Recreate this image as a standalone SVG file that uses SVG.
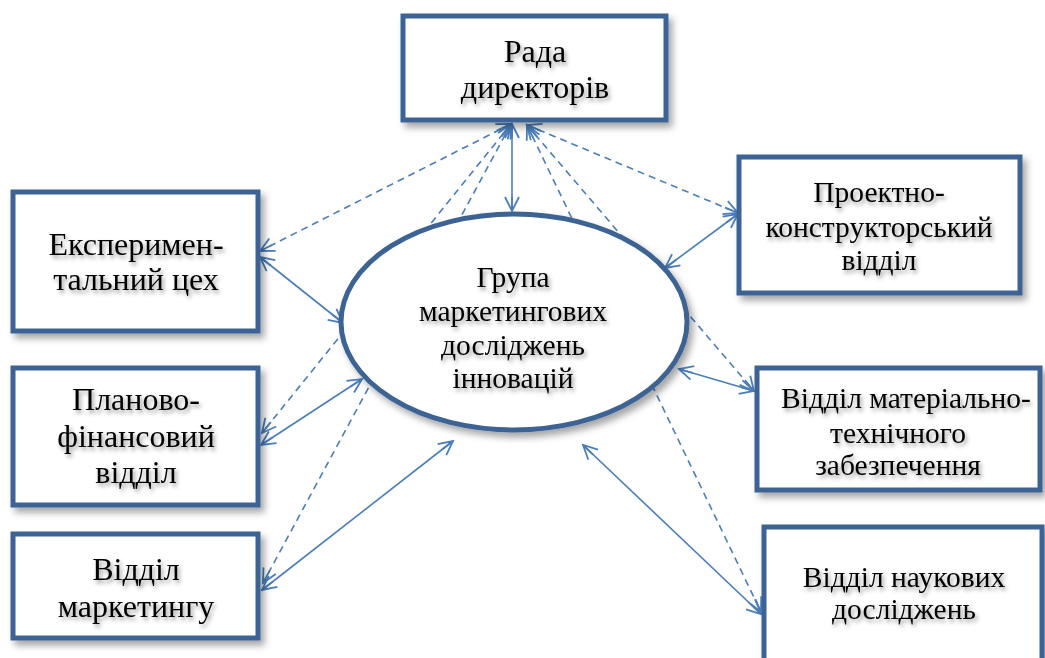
<svg xmlns="http://www.w3.org/2000/svg" width="1045" height="658" viewBox="0 0 1045 658">
  <style>
    .box { fill: #ffffff; stroke: #3d6394; stroke-width: 5; filter: url(#boxShadow); }
    .oval { fill: #ffffff; stroke: #3d6394; stroke-width: 5; filter: url(#boxShadow); }
    .lbl { font-family: 'Liberation Serif', 'Times New Roman', serif; font-size: 29.5px; fill: #000000; text-anchor: middle; filter: url(#textShadow); }
    .big { font-size: 32px; }
    .solid { stroke: #4a7ebb; stroke-width: 1.6; fill: none; marker-start: url(#arrow); marker-end: url(#arrow); }
    .dash { stroke: #4a7ebb; stroke-width: 1.6; fill: none; stroke-dasharray: 7 5; marker-start: url(#arrow); marker-end: url(#arrow); }
  </style>
  <defs>
    <filter id="boxShadow" x="-10%" y="-10%" width="125%" height="130%">
      <feDropShadow dx="4" dy="5" stdDeviation="3.5" flood-color="#000000" flood-opacity="0.35"/>
    </filter>
    <filter id="textShadow" x="-10%" y="-30%" width="125%" height="170%">
      <feDropShadow dx="2" dy="3" stdDeviation="2.2" flood-color="#000000" flood-opacity="0.4"/>
    </filter>
    <marker id="arrow" viewBox="-15 -9 17 18" refX="0" refY="0" markerWidth="17" markerHeight="18" markerUnits="userSpaceOnUse" orient="auto-start-reverse">
      <path d="M-14,-7 L0,0 L-14,7 M-14,0 L0,0" fill="none" stroke="#4a7ebb" stroke-width="1.8"/>
    </marker>
  </defs>

  <rect width="1045" height="658" fill="#ffffff"/>

  <!-- connectors -->
  <g id="connectors">
    <!-- solid two-way links -->
    <line class="solid" x1="512" y1="124" x2="512" y2="211"/>
    <line class="solid" x1="260" y1="257" x2="343" y2="323"/>
    <line class="solid" x1="261" y1="445" x2="362" y2="379"/>
    <line class="solid" x1="262" y1="590" x2="453" y2="441"/>
    <line class="solid" x1="738" y1="214" x2="665" y2="268"/>
    <line class="solid" x1="679" y1="369" x2="754" y2="391"/>
    <line class="solid" x1="583" y1="445" x2="761" y2="614"/>
    <!-- dashed links from the board -->
    <line class="dash" x1="511" y1="124" x2="260" y2="251"/>
    <line class="dash" x1="511" y1="124" x2="262" y2="433"/>
    <line class="dash" x1="511" y1="124" x2="263" y2="583"/>
    <line class="dash" x1="527" y1="125" x2="738" y2="213"/>
    <line class="dash" x1="527" y1="125" x2="754" y2="391"/>
    <line class="dash" x1="527" y1="125" x2="761" y2="612"/>
  </g>

  <g id="board">
    <rect class="box" x="403" y="16" width="263" height="104"/>
    <text class="lbl big" x="535" y="62">Рада</text>
    <text class="lbl big" x="535" y="98">директорів</text>
  </g>

  <g id="exp-shop">
    <rect class="box" x="13" y="192" width="245" height="139"/>
    <text class="lbl big" x="136" y="255">Експеримен-</text>
    <text class="lbl big" x="136" y="290">тальний цех</text>
  </g>

  <g id="finance">
    <rect class="box" x="13" y="368" width="245" height="137"/>
    <text class="lbl big" x="136" y="410">Планово-</text>
    <text class="lbl big" x="136" y="447">фінансовий</text>
    <text class="lbl big" x="136" y="483">відділ</text>
  </g>

  <g id="marketing">
    <rect class="box" x="13" y="534" width="245" height="104"/>
    <text class="lbl big" x="136" y="580">Відділ</text>
    <text class="lbl big" x="136" y="617">маркетингу</text>
  </g>

  <g id="design">
    <rect class="box" x="739" y="157" width="281" height="136"/>
    <text class="lbl" x="879" y="202">Проектно-</text>
    <text class="lbl" x="879" y="237">конструкторський</text>
    <text class="lbl" x="879" y="270">відділ</text>
  </g>

  <g id="supply">
    <rect class="box" x="757" y="368" width="283" height="122"/>
    <text class="lbl" x="906" y="408">Відділ матеріально-</text>
    <text class="lbl" x="898" y="443">технічного</text>
    <text class="lbl" x="898" y="475">забезпечення</text>
  </g>

  <g id="research">
    <rect class="box" x="764" y="527" width="278" height="160"/>
    <text class="lbl" x="904" y="587">Відділ наукових</text>
    <text class="lbl" x="904" y="619">досліджень</text>
  </g>

  <g id="innovation-group">
    <ellipse class="oval" cx="514" cy="322" rx="173" ry="108"/>
    <text class="lbl" x="513" y="287">Група</text>
    <text class="lbl" x="513" y="321">маркетингових</text>
    <text class="lbl" x="513" y="355">досліджень</text>
    <text class="lbl" x="513" y="388">інновацій</text>
  </g>
</svg>
